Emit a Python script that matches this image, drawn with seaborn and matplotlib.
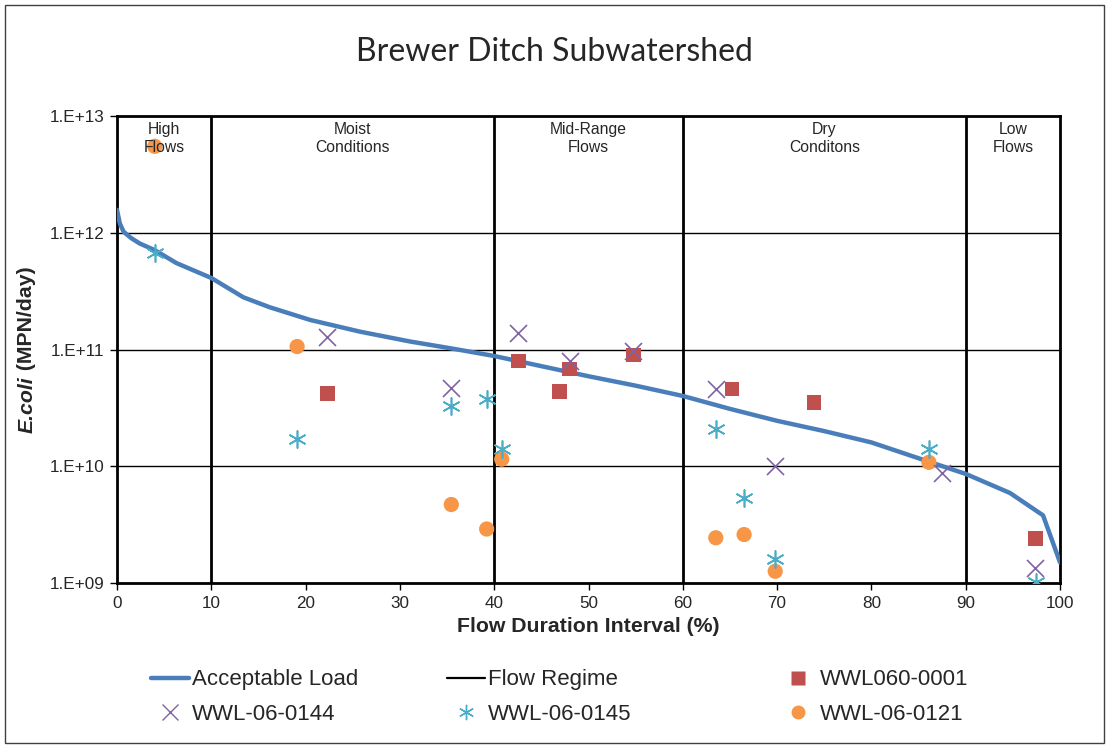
import numpy as np
import pandas as pd
import matplotlib
matplotlib.use("Agg")
import matplotlib.pyplot as plt
import seaborn as sns
from matplotlib.patches import Rectangle
from matplotlib.ticker import FixedLocator, FuncFormatter, NullLocator
from matplotlib.lines import Line2D

# --- data ---
curve_x = [0, 0.3, 0.7, 1.5, 2.4, 4, 6.3, 10, 13.4, 16.2, 20.5, 25.8, 31.1, 35.5, 40,
           45, 50, 55, 60, 65, 70, 75, 80, 86, 90, 94.7, 98.2, 99.65, 100]
curve_y = [1.57e12, 1.2e12, 1.02e12, 9.0e11, 8.1e11, 7.1e11, 5.5e11, 4.1e11, 2.8e11, 2.3e11,
           1.79e11, 1.42e11, 1.17e11, 1.02e11, 8.8e10, 7.2e10, 5.9e10, 4.9e10, 4.0e10, 3.1e10,
           2.45e10, 2.0e10, 1.6e10, 1.1e10, 8.6e9, 5.9e9, 3.8e9, 1.8e9, 1.5e9]

regime_x = [10, 40, 60, 90]
regime_names = ["High\nFlows", "Moist\nConditions", "Mid-Range\nFlows", "Dry\nConditons", "Low\nFlows"]
regime_mid = [5, 25, 50, 75, 95]

s0001_x = [22.3, 42.6, 46.9, 48.0, 54.75, 65.2, 73.9, 97.4]
s0001_y = [4.2e10, 8.0e10, 4.35e10, 6.8e10, 9.0e10, 4.6e10, 3.5e10, 2.4e9]

s0144_x = [22.3, 35.45, 42.5, 48.0, 54.75, 63.5, 69.8, 87.45, 97.4]
s0144_y = [1.27e11, 4.7e10, 1.39e11, 7.9e10, 9.8e10, 4.6e10, 1.0e10, 8.8e9, 1.34e9]

s0145_x = [4.0, 19.1, 35.45, 39.2, 40.8, 63.5, 66.5, 69.8, 86.1, 97.5]
s0145_y = [6.7e11, 1.7e10, 3.3e10, 3.8e10, 1.4e10, 2.07e10, 5.3e9, 1.6e9, 1.4e10, 1.03e9]

s0121_x = [4.0, 19.1, 35.45, 39.2, 40.8, 63.5, 66.5, 69.8, 86.1]
s0121_y = [5.5e12, 1.06e11, 4.7e9, 2.9e9, 1.15e10, 2.44e9, 2.6e9, 1.26e9, 1.08e10]

ytick_vals = [1e9, 1e10, 1e11, 1e12, 1e13]
xtick_vals = [0, 10, 20, 30, 40, 50, 60, 70, 80, 90, 100]

blue = "#4A7EBB"
red = "#C0504D"
purple = "#8064A2"
cyan = "#4BACC6"
orange = "#F79646"

sns.set_style("white")
plt.rcParams["font.family"] = ["Liberation Sans", "DejaVu Sans"]

W, H = 1109, 748
fig = plt.figure(figsize=(W / 100, H / 100), dpi=100)
ax = fig.add_axes([117 / W, 1 - 583 / H, (1060 - 117) / W, (583 - 116) / H])

# horizontal gridlines (decades)
for v in ytick_vals[1:-1]:
    ax.axhline(v, color="black", lw=1.0, zorder=1)

# flow regime boundaries
for xv in regime_x:
    ax.axvline(xv, color="black", lw=2.0, zorder=2)

curve = pd.DataFrame({"x": curve_x, "y": curve_y})
sns.lineplot(data=curve, x="x", y="y", ax=ax, color=blue, lw=3.2, zorder=3, sort=False)

star = (6, 2, 0)  # asterisk: vertical bar + two slanted bars
sns.scatterplot(x=s0001_x, y=s0001_y, ax=ax, marker="s", s=110, color=red, edgecolor="none", zorder=4)
sns.scatterplot(x=s0144_x, y=s0144_y, ax=ax, marker="x", s=150, color=purple, linewidth=1.2, zorder=5)
sns.scatterplot(x=s0145_x, y=s0145_y, ax=ax, marker=star, s=150, color=cyan, edgecolor=cyan, linewidth=1.2, zorder=5)
sns.scatterplot(x=s0121_x, y=s0121_y, ax=ax, marker="o", s=120, color=orange, edgecolor="none", zorder=4)

ax.set_yscale("log")
ax.set_xlim(0, 100)
ax.set_ylim(1e9, 1e13)
ax.yaxis.set_major_locator(FixedLocator(ytick_vals))
ax.yaxis.set_minor_locator(NullLocator())
ax.yaxis.set_major_formatter(FuncFormatter(lambda v, p: "1.E+%02d" % int(round(np.log10(v)))))
ax.xaxis.set_major_locator(FixedLocator(xtick_vals))
ax.tick_params(axis="both", direction="out", length=5, width=1, color="black",
               labelsize=12.3, left=True, bottom=True, pad=4)

for sp in ax.spines.values():
    sp.set_color("black")
    sp.set_linewidth(2.0)

# regime names at top of each band
for xm, name in zip(regime_mid, regime_names):
    ax.text(xm, 0.988, name, transform=ax.get_xaxis_transform(), ha="center", va="top",
            fontsize=11.3, linespacing=1.25, zorder=6)

ax.set_xlabel("Flow Duration Interval (%)", fontsize=15.3, fontweight="bold", labelpad=5)
ax.set_ylabel("")  # drawn by hand below

# y label: italic bold "E.coli" followed by bold "(MPN/day)", built from two pieces
renderer = fig.canvas.get_renderer()
ylab_x = 27 / W
part1 = fig.text(ylab_x, 0, "E.coli", rotation=90, ha="center", va="bottom",
                 fontsize=15.3, fontweight="bold", fontstyle="italic")
part2 = fig.text(ylab_x, 0, " (MPN/day)", rotation=90, ha="center", va="bottom",
                 fontsize=15.3, fontweight="bold")
h1 = part1.get_window_extent(renderer).height / H
h2 = part2.get_window_extent(renderer).height / H
y_mid = 1 - 349.5 / H
y0 = y_mid - (h1 + h2) / 2
part1.set_y(y0)
part2.set_y(y0 + h1)

fig.text(0.5, 1 - 52 / H, "Brewer Ditch Subwatershed", ha="center", va="center",
         fontsize=23, family=["Lato", "DejaVu Sans"])

# legend: three columns placed like the original
col_handles = [
    [Line2D([], [], color=blue, lw=3.2, label="Acceptable Load"),
     Line2D([], [], color=purple, marker="x", ls="none", markersize=11, mew=1.0, label="WWL-06-0144")],
    [Line2D([], [], color="black", lw=1.6, label="Flow Regime"),
     Line2D([], [], color=cyan, marker=star, ls="none", markersize=11, mew=1.0, label="WWL-06-0145")],
    [Line2D([], [], color=red, marker="s", ls="none", markersize=10, mec="none", label="WWL060-0001"),
     Line2D([], [], color=orange, marker="o", ls="none", markersize=10, mec="none", label="WWL-06-0121")],
]
col_left = [151, 447, 779]
for hs, xl in zip(col_handles, col_left):
    fig.legend(handles=hs, loc="center left", bbox_to_anchor=(xl / W, 1 - 697 / H),
               frameon=False, fontsize=16, handlelength=1.7, handletextpad=0.15,
               labelspacing=0.6, borderpad=0, borderaxespad=0)

fig.patches.append(Rectangle((5 / W, 5 / H), 1 - 10 / W, 1 - 10 / H,
                             transform=fig.transFigure, fill=False, ec="#404040", lw=1.0))

fig.savefig("out.png", dpi=100)
